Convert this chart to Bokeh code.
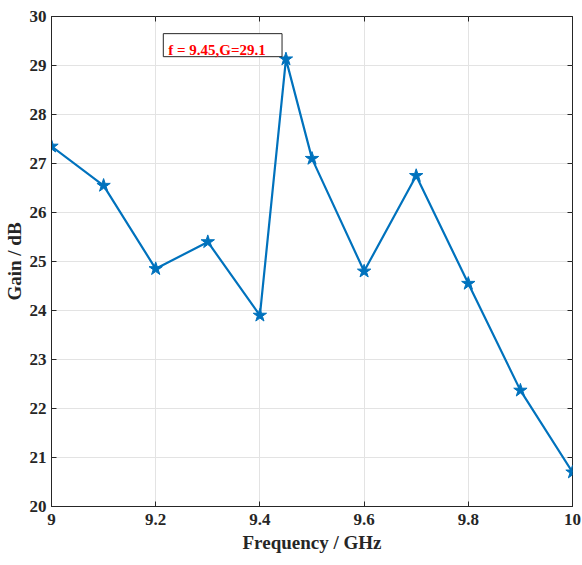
from bokeh.plotting import figure
from bokeh.models import LinearAxis, Label, BoxAnnotation, FixedTicker, Range1d
from bokeh.embed import file_html
from bokeh.resources import INLINE

freq = [9.0, 9.1, 9.2, 9.3, 9.4, 9.45, 9.5, 9.6, 9.7, 9.8, 9.9, 10.0]
gain = [27.35, 26.55, 24.85, 25.4, 23.9, 29.13, 27.1, 24.8, 26.75, 24.55, 22.37, 20.7]
x_ticks = [9.0, 9.2, 9.4, 9.6, 9.8, 10.0]
x_tick_labels = {9.0: "9", 9.2: "9.2", 9.4: "9.4", 9.6: "9.6", 9.8: "9.8", 10.0: "10"}
y_ticks = list(range(20, 31))
annot_text = "f = 9.45,G=29.1"

FONT = "Liberation Serif"
BLUE = "#0072BD"

p = figure(width=582, height=565, output_backend="svg", toolbar_location=None,
           x_range=Range1d(9.0, 10.0), y_range=Range1d(20, 30),
           min_border_left=50, min_border_right=10, min_border_top=16, min_border_bottom=59)
p.background_fill_color = "white"
p.border_fill_color = "white"
p.outline_line_color = "#262626"
p.outline_line_width = 1

for ax in (p.xaxis[0], p.yaxis[0]):
    ax.major_tick_in = 5
    ax.major_tick_out = 0
    ax.minor_tick_line_color = None
    ax.axis_line_color = "#262626"
    ax.major_tick_line_color = "#262626"
    ax.major_label_text_font = FONT
    ax.major_label_text_font_style = "bold"
    ax.major_label_text_font_size = "17px"
    ax.major_label_text_color = "#262626"
    ax.axis_label_text_font = FONT
    ax.axis_label_text_font_style = "bold"
    ax.axis_label_text_font_size = "19px"
    ax.axis_label_text_color = "#262626"

p.xaxis.ticker = FixedTicker(ticks=x_ticks)
p.xaxis.major_label_overrides = x_tick_labels
p.xaxis.axis_label = "Frequency / GHz"
p.xaxis.major_label_standoff = 7
p.xaxis.axis_label_standoff = 4

p.yaxis.ticker = FixedTicker(ticks=y_ticks)
p.yaxis.axis_label = "Gain / dB"
p.yaxis.major_label_standoff = 5
p.yaxis.axis_label_standoff = 2

# mirrored ticks on top and right (no labels)
top = LinearAxis(ticker=FixedTicker(ticks=x_ticks), major_tick_in=5, major_tick_out=0,
                 minor_tick_line_color=None, axis_line_color=None,
                 major_label_overrides={t: "" for t in x_ticks}, major_label_standoff=0,
                 major_tick_line_color="#262626")
right = LinearAxis(ticker=FixedTicker(ticks=y_ticks), major_tick_in=5, major_tick_out=0,
                   minor_tick_line_color=None, axis_line_color=None,
                   major_label_overrides={t: "" for t in y_ticks}, major_label_standoff=0,
                   major_tick_line_color="#262626")
p.add_layout(top, "above")
p.add_layout(right, "right")

p.xgrid.ticker = FixedTicker(ticks=x_ticks)
p.ygrid.ticker = FixedTicker(ticks=y_ticks)
p.grid.grid_line_color = "#e3e3e3"
p.grid.grid_line_width = 1

p.line(freq, gain, line_color=BLUE, line_width=2.2)
p.scatter(freq, gain, marker="star", size=14, fill_color=BLUE, line_color=BLUE)

box = BoxAnnotation(left=9.2146, right=9.4425, bottom=29.18, top=29.65,
                    fill_color="white", fill_alpha=1.0, line_color="#262626",
                    line_alpha=1.0, line_width=1, level="overlay")
p.add_layout(box)
lbl = Label(x=9.2146, y=29.18, x_offset=5, y_offset=7, text=annot_text,
            text_font=FONT, text_font_style="bold", text_font_size="15px",
            text_color="red", text_align="left", text_baseline="alphabetic",
            level="overlay")
p.add_layout(lbl)

open("out.html", "w").write(file_html(p, INLINE))
